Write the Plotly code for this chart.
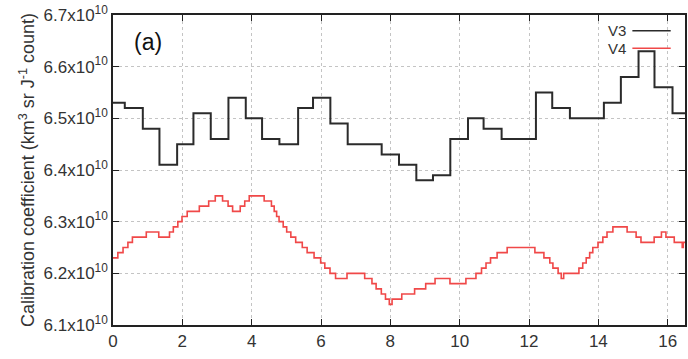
import plotly.graph_objects as go

# V3 step series (step start positions, values in units of 1e10)
v3_x = [0, 0.34, 0.86, 1.34, 1.85, 2.32, 2.82, 3.33, 3.83, 4.30, 4.80, 5.34, 5.77, 6.27, 6.77,
        7.75, 8.25, 8.75, 9.23, 9.73, 10.24, 10.69, 11.21, 12.20, 12.67, 13.18, 14.16, 14.65,
        15.16, 15.62, 16.14, 16.5]
v3_y = [6.53, 6.52, 6.48, 6.41, 6.45, 6.51, 6.46, 6.54, 6.50, 6.46, 6.45, 6.52, 6.54, 6.49, 6.45,
        6.43, 6.41, 6.38, 6.39, 6.46, 6.50, 6.48, 6.46, 6.55, 6.52, 6.50, 6.53, 6.58,
        6.63, 6.56, 6.51, 6.51]

# V4 step series
v4_x = [0, 0.14, 0.29, 0.43, 0.56, 0.96, 1.32, 1.63, 1.74, 1.87, 1.99, 2.14, 2.49, 2.76, 2.95,
        3.16, 3.32, 3.45, 3.67, 3.80, 3.93, 4.36, 4.57, 4.65, 4.72, 4.79, 4.91, 5.01, 5.13,
        5.27, 5.46, 5.60, 5.80, 5.99, 6.11, 6.26, 6.42, 6.75, 7.26, 7.47, 7.59, 7.74, 7.86,
        7.97, 8.05, 8.33, 8.70, 9.02, 9.29, 9.72, 10.18, 10.47, 10.63, 10.76, 10.89, 11.08,
        11.37, 12.17, 12.43, 12.60, 12.69, 12.84, 12.93, 13.00, 13.44, 13.55, 13.65, 13.75,
        13.84, 13.99, 14.13, 14.25, 14.42, 14.83, 15.09, 15.23, 15.61, 15.82, 15.95, 16.19,
        16.42, 16.45, 16.5]
v4_y = [6.23, 6.24, 6.25, 6.26, 6.27, 6.28, 6.27, 6.28, 6.29, 6.30, 6.31, 6.32, 6.33, 6.34, 6.35,
        6.34, 6.33, 6.32, 6.33, 6.34, 6.35, 6.34, 6.33, 6.32, 6.31, 6.30, 6.29, 6.28, 6.27,
        6.26, 6.25, 6.24, 6.23, 6.22, 6.21, 6.20, 6.19, 6.20, 6.19, 6.18, 6.17, 6.16, 6.15,
        6.14, 6.15, 6.16, 6.17, 6.18, 6.19, 6.18, 6.19, 6.20, 6.21, 6.22, 6.23, 6.24,
        6.25, 6.24, 6.23, 6.22, 6.21, 6.20, 6.19, 6.20, 6.21, 6.22, 6.23, 6.24,
        6.25, 6.26, 6.27, 6.28, 6.29, 6.28, 6.27, 6.26, 6.27, 6.28, 6.27, 6.26,
        6.25, 6.26, 6.26]

x_ticks = [0, 2, 4, 6, 8, 10, 12, 14, 16]
y_ticks = [6.1, 6.2, 6.3, 6.4, 6.5, 6.6, 6.7]
y_ticktext = [f"{v:.1f}x10<sup>10</sup>" for v in y_ticks]

scale = 1e10
fig = go.Figure()
fig.add_trace(go.Scatter(x=v3_x, y=[v * scale for v in v3_y], mode="lines", name="V3",
                         line=dict(color="#2b2b2b", width=2, shape="hv")))
fig.add_trace(go.Scatter(x=v4_x, y=[v * scale for v in v4_y], mode="lines", name="V4",
                         line=dict(color="#f04848", width=1.6, shape="hv")))

font = "Liberation Sans, Arial, sans-serif"
fig.update_layout(
    width=688, height=359,
    margin=dict(l=113, r=1, t=15, b=34),
    paper_bgcolor="white", plot_bgcolor="white",
    showlegend=False,
    font=dict(family=font, size=17, color="#333333"),
    xaxis=dict(range=[0, 16.5], tickvals=x_ticks, ticks="inside", ticklen=6,
               tickcolor="#222", showline=True, linecolor="#222", linewidth=1.5,
               mirror="allticks", showgrid=True, gridcolor="#c4c4c4", griddash="dot",
               gridwidth=1, zeroline=False, tickfont=dict(size=17, color="#333")),
    yaxis=dict(range=[6.1 * scale, 6.7 * scale], tickvals=[v * scale for v in y_ticks],
               ticktext=y_ticktext, ticks="inside", ticklen=6, tickcolor="#222",
               showline=True, linecolor="#222", linewidth=1.5, mirror="allticks",
               showgrid=True, gridcolor="#c4c4c4", griddash="dot", gridwidth=1,
               zeroline=False, tickfont=dict(size=17, color="#333"),
               title=dict(text="Calibration coefficient (km<sup>3</sup> sr J<sup>-1</sup> count)",
                          font=dict(size=18, color="#333"), standoff=4)),
)

fig.add_annotation(text="(a)", xref="paper", yref="paper", x=0.061, y=0.913,
                   xanchor="center", yanchor="middle",
                   showarrow=False, font=dict(size=23, color="#111"))
# legend (text left, line sample right)
for label, color, yp in [("V3", "#2b2b2b", 0.949), ("V4", "#f04848", 0.893)]:
    fig.add_annotation(text=label, xref="paper", yref="paper", x=0.90, y=yp,
                       xanchor="right", yanchor="middle", showarrow=False,
                       font=dict(size=15, color="#333"))
    fig.add_shape(type="line", xref="paper", yref="paper", x0=0.908, x1=0.975, y0=yp, y1=yp,
                  line=dict(color=color, width=1.5))

fig.write_html("out.html", config={"displayModeBar": False},
               post_script="document.body.style.margin='0';")
